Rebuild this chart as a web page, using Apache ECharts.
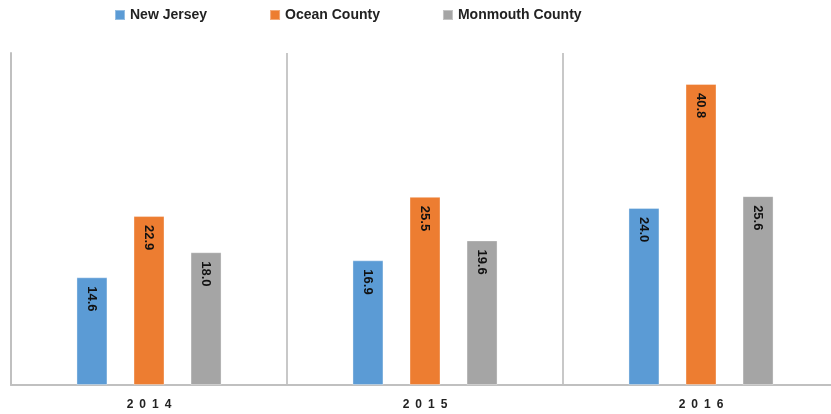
<!DOCTYPE html>
<html>
<head>
<meta charset="utf-8">
<script src="https://cdn.jsdelivr.net/npm/echarts@6/dist/echarts.min.js"></script>
<style>html,body{margin:0;padding:0;background:#fff}#c{width:831px;height:414px}</style>
</head>
<body>
<div id="c"></div>
<script>
const categories = ['2014', '2015', '2016'];
const newJersey = [14.6, 16.9, 24.0];
const oceanCounty = [22.9, 25.5, 40.8];
const monmouthCounty = [18.0, 19.6, 25.6];
const seriesNames = ['New Jersey', 'Ocean County', 'Monmouth County'];
const colors = ['#5b9bd5', '#ed7d31', '#a5a5a5'];

const chart = echarts.init(document.getElementById('c'));
const labelCfg = {
  show: true,
  position: 'insideTop',
  rotate: -90,
  align: 'left',
  verticalAlign: 'middle',
  distance: 9,
  color: '#111',
  fontWeight: 'bold',
  fontSize: 13,
  fontFamily: 'Liberation Sans',
  formatter: p => p.value.toFixed(1)
};
function mk(name, data, color) {
  return {
    name, type: 'bar', data,
    barWidth: 31, barGap: '84%',
    itemStyle: { color, borderColor: 'rgba(255,255,255,0.35)', borderWidth: 1 },
    label: labelCfg
  };
}
chart.setOption({
  animation: false,
  legend: {
    top: 3, left: 109,
    itemWidth: 10, itemHeight: 10, itemGap: 62,
    icon: 'rect',
    textStyle: { fontWeight: 'bold', fontSize: 14, color: '#222', fontFamily: 'Liberation Sans' },
    data: seriesNames
  },
  grid: { left: 11, width: 828, top: 53, height: 332, outerBoundsMode: 'none', containLabel: false },
  xAxis: {
    type: 'category', data: categories,
    axisLine: { show: true, lineStyle: { color: '#c0c0c0', width: 2 } },
    axisTick: { show: false },
    splitLine: { show: true, lineStyle: { color: '#c8c8c8', width: 2 } },
    axisLabel: {
      margin: 14, fontWeight: 'bold', fontSize: 12, color: '#222', fontFamily: 'Liberation Sans',
      formatter: v => v.split('').join('\u2002')
    }
  },
  yAxis: {
    type: 'value', min: 0, max: 45,
    axisLine: { show: true, lineStyle: { color: '#c0c0c0', width: 2 } },
    axisTick: { show: false }, axisLabel: { show: false }, splitLine: { show: false }
  },
  series: [
    mk(seriesNames[0], newJersey, colors[0]),
    mk(seriesNames[1], oceanCounty, colors[1]),
    mk(seriesNames[2], monmouthCounty, colors[2])
  ]
});
</script>
</body>
</html>
